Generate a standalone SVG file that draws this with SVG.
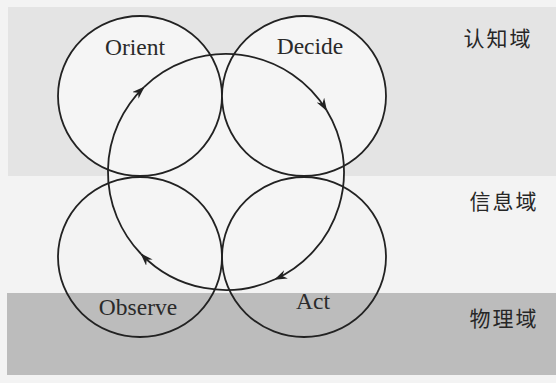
<svg xmlns="http://www.w3.org/2000/svg" width="556" height="383" viewBox="0 0 556 383">
  <defs>
    <style>
      .node { stroke: #222; stroke-width: 1.8; }
      .top { fill: #f5f5f5; }
      .bot { fill: none; }
      .lbl { font-family: "Liberation Serif", "Times New Roman", serif; font-size: 23.5px; fill: #2a2a2a; text-anchor: middle; }
      .dom { font-family: "Noto Sans CJK SC", "Noto Sans", sans-serif; font-size: 21px; fill: #262626; letter-spacing: 2px; text-anchor: middle; }
      .loop { fill: none; stroke: #222; stroke-width: 1.8; marker-end: url(#arr); }
    </style>
    <marker id="arr" markerWidth="13" markerHeight="9" refX="12" refY="4.5" orient="auto" markerUnits="userSpaceOnUse" viewBox="0 0 13 9">
      <path d="M0,0 L13,4.5 L0,9 L4,4.5 z" fill="#222"/>
    </marker>
  </defs>

  <g id="background">
    <rect x="0" y="0" width="556" height="383" fill="#f3f3f3"/>
    <rect x="8" y="7" width="548" height="169" fill="#e4e4e4"/>
    <rect x="7" y="293" width="549" height="82" fill="#bcbcbc"/>
    <circle cx="226" cy="172" r="118" fill="#f5f5f5"/>
  </g>

  <g id="domains">
    <text class="dom" x="498" y="46">认知域</text>
    <text class="dom" x="504" y="209">信息域</text>
    <text class="dom" x="504" y="326">物理域</text>
  </g>

  <g id="orient">
    <ellipse class="node top" cx="140" cy="96" rx="82" ry="80"/>
    <text class="lbl" x="135" y="55">Orient</text>
  </g>
  <g id="decide">
    <ellipse class="node top" cx="304" cy="96" rx="82" ry="80"/>
    <text class="lbl" x="310" y="54">Decide</text>
  </g>
  <g id="observe">
    <ellipse class="node bot" cx="140" cy="257" rx="82" ry="80"/>
    <text class="lbl" x="138" y="315">Observe</text>
  </g>
  <g id="act">
    <ellipse class="node bot" cx="304" cy="257" rx="82" ry="80"/>
    <text class="lbl" x="313" y="309">Act</text>
  </g>

  <g id="connectors">
    <path class="loop" d="M141.1,254.0 A118,118 0 0 1 144.0,87.1"/>
    <path class="loop" d="M144.0,87.1 A118,118 0 0 1 326.6,110.3"/>
    <path class="loop" d="M326.6,110.3 A118,118 0 0 1 275.1,279.3"/>
    <path class="loop" d="M275.1,279.3 A118,118 0 0 1 141.1,254.0"/>
  </g>
</svg>
